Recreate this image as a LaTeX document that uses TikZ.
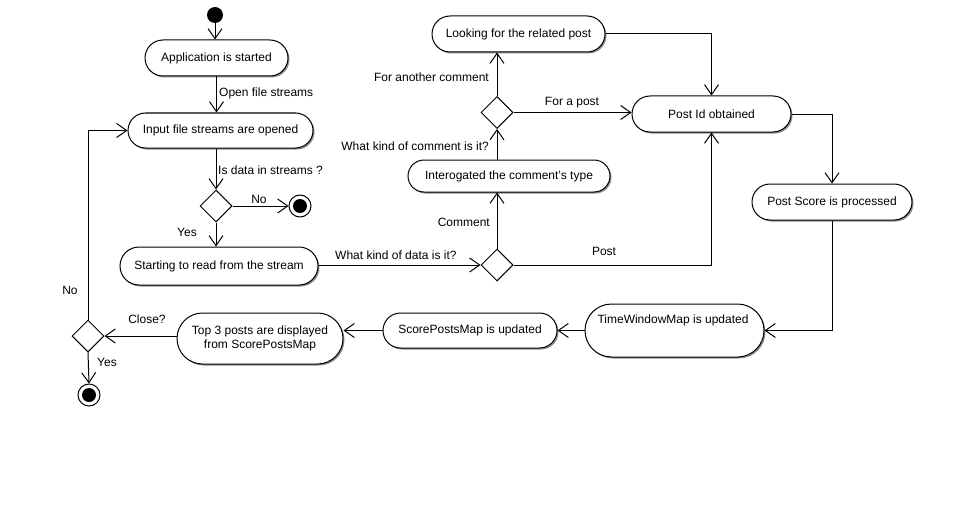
\documentclass[tikz,border=0pt]{standalone}
\usepackage{fontspec}
\setmainfont{Liberation Sans}
\usetikzlibrary{arrows.meta,shapes.geometric,shadows}
\begin{document}
\begin{tikzpicture}[x=1pt,y=-1pt,
  every node/.style={font=\fontsize{12}{14}\selectfont},
  act/.style={draw, line width=1pt, fill=white, inner sep=0pt,
    drop shadow={shadow xshift=1.5pt, shadow yshift=-1.5pt, fill=black!45, opacity=1}},
  dec/.style={draw, line width=1pt, fill=white, diamond, inner sep=0pt,
    minimum width=32pt, minimum height=32pt},
  conn/.style={line width=1pt, -{Straight Barb[length=10pt,width=14pt,line width=1pt]}},
  lbl/.style={inner sep=0pt}]
\useasboundingbox (0,0) rectangle (965,508);
\fill[white] (0,0) rectangle (965,508);
% initial and final nodes
\node[circle, fill=black, minimum size=16pt, inner sep=0pt] (init) at (215,15) {};
\node[circle, draw, line width=1pt, fill=white, minimum size=22pt, inner sep=0pt] (fin1) at (300,206) {};
\fill[black] (fin1) circle (7pt);
\node[circle, draw, line width=1pt, fill=white, minimum size=22pt, inner sep=0pt] (fin2) at (89,395) {};
\fill[black] (fin2) circle (7pt);
% activities
\node[act, minimum width=143pt, minimum height=36pt, rounded corners=18pt] (app) at (216.5,58) {Application is started};
\node[act, minimum width=185pt, minimum height=35pt, rounded corners=17.5pt] (inp) at (220.5,130.5) {Input file streams are opened};
\node[act, minimum width=198pt, minimum height=38pt, rounded corners=19pt] (read) at (219,266) {Starting to read from the stream};
\node[act, minimum width=173pt, minimum height=36pt, rounded corners=18pt] (look) at (518.5,34) {Looking for the related post};
\node[act, minimum width=202pt, minimum height=32pt, rounded corners=16pt] (inter) at (509,176) {Interogated the comment's type};
\node[act, minimum width=159pt, minimum height=36pt, rounded corners=18pt] (pid) at (711.5,114) {Post Id obtained};
\node[act, minimum width=160pt, minimum height=36pt, rounded corners=18pt] (score) at (832,202) {Post Score is processed};
\node[act, minimum width=179pt, minimum height=53pt, rounded corners=26.5pt] (tw) at (674.5,330.5) {};
\node[lbl] (twtext) at (673,320) {TimeWindowMap is updated};
\node[act, minimum width=174pt, minimum height=35pt, rounded corners=17.5pt] (spm) at (470,330.5) {ScorePostsMap is updated};
\node[act, minimum width=166pt, minimum height=51pt, rounded corners=25.5pt, align=center] (top) at (260,338.5) {Top 3 posts are displayed\\from ScorePostsMap};
% decisions
\node[dec] (d1) at (216,206) {};
\node[dec] (d2) at (497,265) {};
\node[dec] (d3) at (497,112.5) {};
\node[dec] (d4) at (88,336) {};
% connectors
\draw[conn] (init.south) -- (app.north -| init.south);
\draw[conn] (app.south) -- (app.south |- inp.north);
\draw[conn] (d1 |- inp.south) -- (d1.north);
\draw[conn] (d1.east) -- (fin1.west);
\draw[conn] (d1.south) -- (d1.south |- read.north);
\draw[conn] (read.east |- d2) -- (d2.west);
\draw[conn] (d2.north) -- (d2.north |- inter.south);
\draw[conn] (d3.south |- inter.north) -- (d3.south);
\draw[conn] (d3.north) -- (d3.north |- look.south);
\draw[conn] (d3.east) -- (pid.west |- d3.east);
\draw[conn] (look.east) -| (pid.north);
\draw[conn] (d2.east) -| (pid.south);
\draw[conn] (pid.east) -| (score.north);
\draw[conn] (score.south) |- (tw.east);
\draw[conn] (tw.west) -- (spm.east);
\draw[conn] (spm.west) -- (top.east |- spm.west);
\draw[conn] (top.west |- d4) -- (d4.east);
\draw[conn] (d4.north) |- (inp.west);
\draw[conn] (d4.south) -- (fin2.north);
% labels
\node[lbl, anchor=west] at (219,93) {Open file streams};
\node[lbl, anchor=west] at (218,170) {Is data in streams ?};
\node[lbl] at (259,199) {No};
\node[lbl] at (187,232) {Yes};
\node[lbl, anchor=west] at (335,255) {What kind of data is it?};
\node[lbl] at (604,251) {Post};
\node[lbl, anchor=east] at (490,222) {Comment};
\node[lbl, anchor=east] at (489,146) {What kind of comment is it?};
\node[lbl, anchor=east] at (489,77) {For another comment};
\node[lbl] at (572,103) {For a post};
\node[lbl] at (147,319) {Close?};
\node[lbl] at (70,290) {No};
\node[lbl] at (107,362) {Yes};
\end{tikzpicture}
\end{document}
